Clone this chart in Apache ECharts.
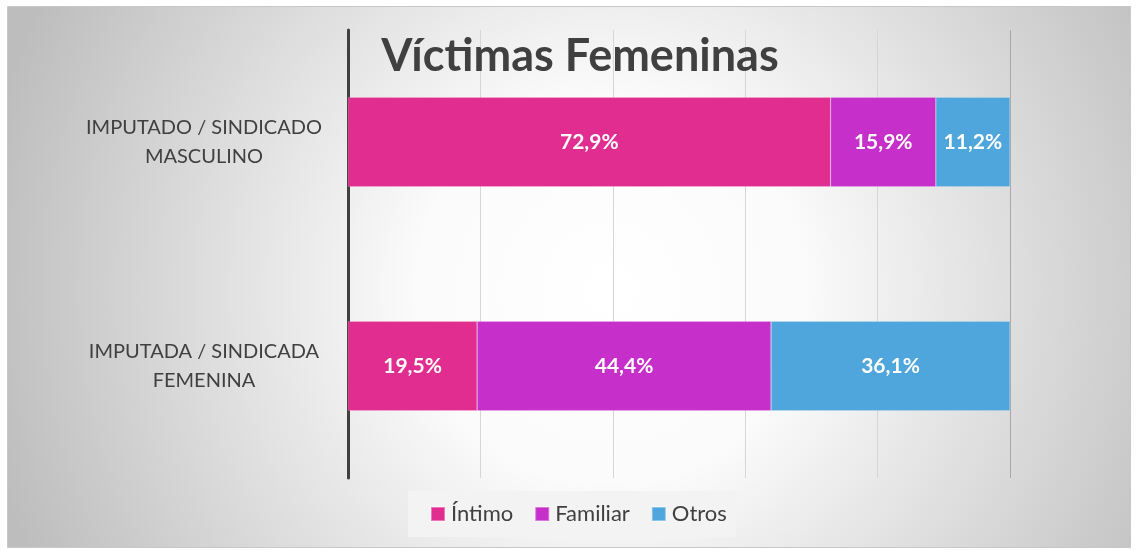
<!DOCTYPE html>
<html>
<head>
<meta charset="utf-8">
<script src="https://cdn.jsdelivr.net/npm/echarts@6/dist/echarts.min.js"></script>
<style>
html,body{margin:0;padding:0;background:#ffffff;}
#c{width:1136px;height:550px;}
</style>
</head>
<body>
<div id="c"></div>
<script>
const categories = ['IMPUTADO / SINDICADO\nMASCULINO', 'IMPUTADA / SINDICADA\nFEMENINA'];
const seriesNames = ['Íntimo', 'Familiar', 'Otros'];
const intimo = [72.9, 19.5];
const familiar = [15.9, 44.4];
const otros = [11.2, 36.1];
const colors = ['#E22D90', '#C62FC9', '#4EA6DC'];
const titleText = 'Víctimas Femeninas';

const FONT = 'Lato';
const chart = echarts.init(document.getElementById('c'), null, {renderer: 'canvas'});
const fmt = p => p.value.toFixed(1).replace('.', ',') + '%';
const mk = (name, data, i) => ({
  name: name,
  type: 'bar',
  stack: 'total',
  data: data,
  barWidth: '40%',
  itemStyle: {color: colors[i], borderColor: 'rgba(255,255,255,0.35)', borderWidth: 0.5},
  label: {show: true, position: 'inside', formatter: fmt, color: '#ffffff',
          fontFamily: FONT, fontWeight: 'bold', fontSize: 21}
});
chart.setOption({
  animation: false,
  color: colors,
  graphic: [{
    type: 'rect', z: -10, silent: true,
    shape: {x: 7.5, y: 6.5, width: 1123, height: 541},
    style: {
      fill: new echarts.graphic.RadialGradient(610, 290, 640, [
        {offset: 0, color: '#ffffff'},
        {offset: 0.3, color: '#fbfbfb'},
        {offset: 1, color: '#bdbdbd'}
      ], true),
      stroke: '#c8c8c8', lineWidth: 1
    }
  }],
  title: {
    text: titleText, left: 575, top: 29, textAlign: 'center',
    textStyle: {fontFamily: FONT, fontWeight: 'bold', fontSize: 45, color: '#404040'}
  },
  legend: {
    data: seriesNames, left: 408, top: 491,
    padding: [12, 9, 12, 22],
    backgroundColor: '#f3f3f3',
    itemWidth: 14, itemHeight: 14, itemGap: 21,
    icon: 'rect',
    textStyle: {fontFamily: FONT, fontSize: 22, color: '#404040', padding: [0, 0, 0, 1]}
  },
  grid: {left: 348, right: 126, top: 30, bottom: 72, containLabel: false},
  xAxis: {
    type: 'value', min: 0, max: 100, interval: 20,
    axisLabel: {show: false}, axisLine: {show: false}, axisTick: {show: false},
    splitLine: {show: true, lineStyle: {color: ['#d6d6d6', '#d6d6d6', '#d6d6d6', '#d6d6d6', '#d6d6d6', '#a8a8a8'], width: 1}}
  },
  yAxis: {
    type: 'category', data: categories, inverse: true,
    axisLine: {show: true, lineStyle: {color: '#404040', width: 3}},
    axisTick: {show: false},
    axisLabel: {fontFamily: FONT, fontSize: 20, color: '#404040', align: 'center',
                margin: 144, lineHeight: 29}
  },
  series: [mk(seriesNames[0], intimo, 0), mk(seriesNames[1], familiar, 1), mk(seriesNames[2], otros, 2)]
});
</script>
</body>
</html>
